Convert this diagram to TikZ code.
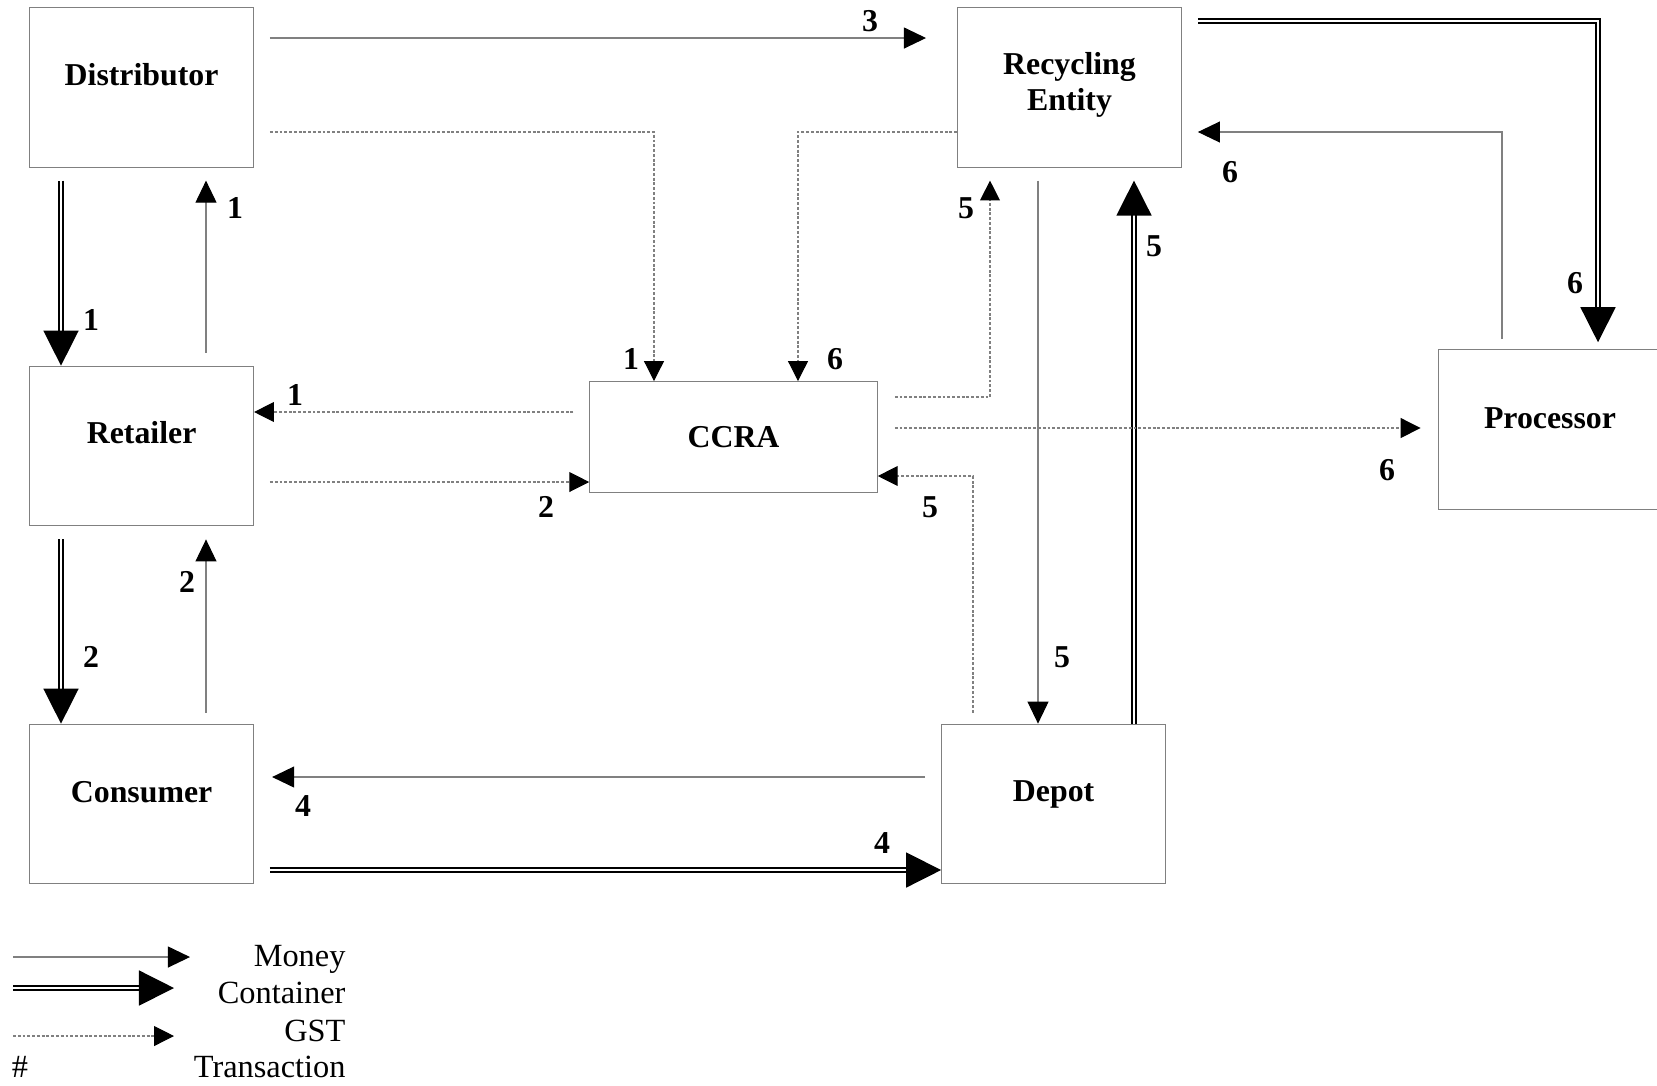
\documentclass[tikz,border=0pt]{standalone}
\usepackage{fontspec}
\setmainfont{Liberation Serif}
\usetikzlibrary{arrows.meta}

\tikzset{
  box/.style={draw=gray, minimum width=84.4pt, minimum height=60.2pt, inner sep=0pt},
  boxtext/.style={font=\fontsize{12}{13.6}\selectfont\bfseries, align=center, yshift=#1},
  money/.style={draw=gray, line width=0.4pt, -{Triangle[length=8.3pt,width=7.9pt,color=black]}},
  container/.style={draw=black, line width=0.55pt, double=white, double distance=1.1pt,
    -{Triangle[length=13.2pt,width=13.2pt,color=black]}},
  gst/.style={draw=gray, line width=0.4pt, dash pattern=on 1.1pt off 0.7pt,
    -{Triangle[length=7.5pt,width=7.5pt,color=black]}},
  num/.style={font=\fontsize{12}{14}\selectfont\bfseries, inner sep=0pt},
  legtext/.style={anchor=base east, inner sep=0pt, font=\fontsize{12.2}{14}\selectfont}
}

\begin{document}
\begin{tikzpicture}[x=0.377pt, y=-0.377pt]
\useasboundingbox (0,0) rectangle (1657,1085);

% boxes
\node[box, label={[boxtext=4.9pt]center:Distributor}] (dist) at (141.6,87.2) {};
\node[box, label={[boxtext=4.9pt]center:Retailer}] (ret) at (141.6,446) {};
\node[box, label={[boxtext=4.5pt]center:Consumer}] (cons) at (141.6,804) {};
\node[box, minimum width=108.4pt, minimum height=41.8pt,
      label={[boxtext=0pt]center:CCRA}] (ccra) at (733.5,437) {};
\node[box, label={[boxtext=1pt]center:Recycling\\Entity}] (rec) at (1069.5,87.2) {};
\node[box, label={[boxtext=4.3pt]center:Processor}] (proc) at (1550,429.5) {};
\node[box, label={[boxtext=3.6pt]center:Depot}] (depot) at (1053.6,804) {};

% money
\draw[money, shorten <=6pt, shorten >=11.7pt] (dist.east |- 0,38) -- (rec.west |- 0,38);
\draw[money, shorten <=4.9pt, shorten >=4.9pt] (ret.north -| 206,0) -- (dist.south -| 206,0);
\draw[money, shorten <=4.1pt, shorten >=4.9pt] (cons.north -| 206,0) -- (ret.south -| 206,0);
\draw[money, shorten <=6pt, shorten >=6.8pt] (depot.west |- 0,777) -- (cons.east |- 0,777);
\draw[money, shorten <=4.9pt] (rec.south -| 1038,0) -- (depot.north -| 1038,0);
\draw[money, shorten <=3.8pt, shorten >=6pt] (proc.north -| 1502,0) |- (rec.east |- 0,132);

% container
\draw[container, shorten <=4.9pt] (dist.south -| 61,0) -- (ret.north -| 61,0);
\draw[container, shorten <=4.9pt] (ret.south -| 61,0) -- (cons.north -| 61,0);
\draw[container, shorten <=6pt] (cons.east |- 0,870) -- (depot.west |- 0,870);
\draw[container, shorten >=4.9pt] (depot.north -| 1134,0) -- (rec.south -| 1134,0);
\draw[container, shorten <=6pt, shorten >=2.6pt] (rec.east |- 0,21) -| (proc.north -| 1598,0);

% gst
\draw[gst, shorten <=6pt] (dist.east |- 0,132) -| (ccra.north -| 654,0);
\draw[gst, shorten <=6pt] (ccra.west |- 0,412) -- (ret.east |- 0,412);
\draw[gst, shorten <=6pt] (ret.east |- 0,482) -- (ccra.west |- 0,482);
\draw[gst] (rec.west |- 0,132) -| (ccra.north -| 798,0);
\draw[gst, shorten <=6.4pt, shorten >=4.9pt] (ccra.east |- 0,397) -| (rec.south -| 990,0);
\draw[gst, shorten <=6.4pt, shorten >=6.4pt] (ccra.east |- 0,428) -- (proc.west |- 0,428);
\draw[gst, shorten <=4.1pt] (depot.north -| 973,0) |- (ccra.east |- 0,476);

% transaction numbers
\node[num] (n3a) at (870,21) {3};
\node[num] (n1a) at (235,208) {1};
\node[num] (n1b) at (91,320) {1};
\node[num] (n2a) at (187,582) {2};
\node[num] (n2b) at (91,657) {2};
\node[num] (n1c) at (295,395) {1};
\node[num] (n1d) at (631,359) {1};
\node[num] (n6a) at (835,359) {6};
\node[num] (n2c) at (546,507) {2};
\node[num] (n5a) at (930,507) {5};
\node[num] (n5b) at (966,208) {5};
\node[num] (n5c) at (1154,246) {5};
\node[num] (n5d) at (1062,657) {5};
\node[num] (n6b) at (1230,172) {6};
\node[num] (n6c) at (1575,283) {6};
\node[num] (n6d) at (1387,470) {6};
\node[num] (n4a) at (303,806) {4};
\node[num] (n4b) at (882,843) {4};

% legend
\coordinate (lm0) at (13,957);  \coordinate (lm1) at (190,957);
\coordinate (lc0) at (13,988);  \coordinate (lc1) at (174,988);
\coordinate (lg0) at (13,1036); \coordinate (lg1) at (174,1036);
\draw[money] (lm0) -- (lm1);
\draw[container] (lc0) -- (lc1);
\draw[gst] (lg0) -- (lg1);
\node[legtext] (lmoney) at (346,966) {Money};
\node[legtext] (lcont) at (346,1003) {Container};
\node[legtext] (lgst) at (346,1041) {GST};
\node[legtext] (ltrans) at (346,1077) {Transaction};
\node[anchor=base, inner sep=0pt, font=\fontsize{12.2}{14}\selectfont] (lhash) at (20,1077) {\#};
\end{tikzpicture}
\end{document}
